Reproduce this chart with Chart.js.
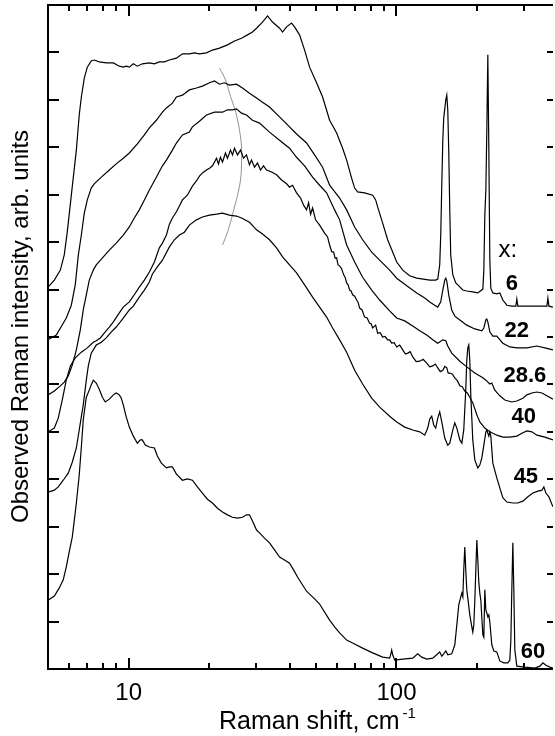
<!DOCTYPE html>
<html><head><meta charset="utf-8">
<script src="https://cdn.jsdelivr.net/npm/chart.js@4/dist/chart.umd.min.js"></script>
<style>html,body{margin:0;padding:0;background:#fff;}canvas{display:block;}</style>
</head><body>
<canvas id="c" width="555" height="736"></canvas>
<script>
// ---- data (Raman shift in cm^-1, intensity in arb. units, offset spectra) ----
const shift6 = [5.00,5.28,5.56,5.75,5.90,6.11,6.38,6.54,6.66,6.83,7.01,7.25,7.44,7.77,8.25,8.77,9.23,9.55,9.80,10.06,10.41,10.78,11.25,11.95,12.48,13.02,13.60,14.20,15.08,15.88,16.86,17.60,18.38,19.52,20.56,21.84,23.39,24.84,26.39,27.78,29.00,30.03,31.61,33.00,34.44,36.60,37.56,38.87,40.57,41.64,43.47,45.39,47.38,50.3,52.99,56.28,59.78,62.94,65.15,68.0,69.79,71.6,76.05,81.47,83.6,85.1,88.8,92.7,100.2,105.5,112.0,119.0,133.1,140.1,142.6,145.0,146.3,147.6,148.9,150.1,152.8,154.1,155.4,156.7,158.1,159.4,162.3,166.5,176.9,183.0,192.7,201.2,210.1,211.9,213.7,215.6,217.4,219.3,221.2,223.1,225.0,228.9,236.9,243.1,249.5,258.2,269.5,279.0,281.4,283.8,314.8,364.4,367.5,370.7,383.7];
const int6 = [8.05,8.20,8.41,8.73,9.21,9.99,10.94,11.68,12.06,12.46,12.69,12.82,12.84,12.80,12.78,12.78,12.71,12.69,12.71,12.69,12.76,12.71,12.76,12.78,12.76,12.80,12.80,12.84,12.88,12.97,12.97,12.99,12.97,12.99,13.05,13.09,13.16,13.24,13.30,13.37,13.43,13.51,13.64,13.77,13.64,13.51,13.43,13.54,13.62,13.54,13.37,13.05,12.69,12.36,12.06,11.57,11.30,10.98,10.73,10.35,10.14,10.06,10.04,9.99,9.89,9.74,9.40,9.05,8.58,8.41,8.29,8.24,8.20,8.20,8.22,8.52,9.15,10.20,11.15,11.62,12.00,12.10,11.79,10.94,9.68,8.73,8.31,8.14,7.99,7.97,7.95,7.93,8.01,8.41,9.57,10.10,11.36,12.95,10.94,8.62,8.03,7.93,7.91,7.93,7.78,7.67,7.65,7.65,7.80,7.65,7.65,7.65,7.82,7.65,7.63];

const shift22 = [5.00,5.37,5.85,6.11,6.32,6.49,6.66,6.83,7.01,7.25,7.44,7.91,8.47,8.99,9.55,10.06,10.78,11.45,11.95,12.69,13.37,13.84,14.57,15.08,15.88,16.86,17.91,18.86,20.04,20.92,21.84,22.80,23.80,25.27,26.6,28.26,30.03,31.61,33.57,36.60,39.88,42.36,46.16,49.46,52.99,56.28,61.34,65.15,69.79,74.75,80.8,86.53,94.30,100.2,109.2,119.0,127.5,133.1,138.9,142.6,146.3,148.9,151.4,152.8,154.1,156.7,160.8,165.1,172.4,183.0,196.1,208.3,211.9,215.6,217.4,219.3,223.1,228.9,236.9,249.5,264.9,281.4,306.7,334.3,358.1,383.7];
const int22 = [6.94,7.04,7.40,7.67,8.10,8.73,9.15,9.61,9.89,10.14,10.23,10.37,10.52,10.65,10.77,10.88,11.07,11.26,11.41,11.57,11.74,11.83,11.93,12.06,12.10,12.21,12.25,12.29,12.36,12.40,12.33,12.36,12.31,12.33,12.25,12.14,12.04,11.95,11.85,11.64,11.43,11.28,11.09,10.84,10.58,10.20,9.93,9.68,9.32,9.05,8.79,8.62,8.41,8.24,8.08,7.93,7.82,7.74,7.67,7.63,7.74,7.99,8.20,8.24,8.18,7.89,7.57,7.44,7.36,7.25,7.17,7.13,7.19,7.36,7.38,7.32,7.11,7.02,7.02,6.87,6.79,6.77,6.77,6.81,6.77,6.73];

const shift28 = [5.00,5.28,5.56,5.75,5.95,6.16,6.38,6.60,6.77,6.95,7.13,7.38,7.57,7.91,8.47,8.99,9.55,10.06,10.50,10.96,11.45,11.95,12.69,13.37,13.84,14.57,15.08,15.88,16.86,17.30,18.38,19.52,20.92,22.41,23.39,24.42,25.27,26.39,27.54,29.00,30.81,33.57,36.60,39.88,42.36,45.39,48.62,51.64,54.85,58.75,61.34,65.15,69.79,74.75,80.8,86.53,94.30,100.2,107.3,115.0,122.1,129.7,136.6,142.6,148.9,152.8,155.4,160.8,172.4,183.0,196.1,210.1,215.6,223.1,226.9,232.9,243.1,253.8,269.5,281.4,296.3,306.7,320.2,334.3,349.1,364.4,383.7];
const int28 = [5.78,5.86,5.97,6.05,6.18,6.41,6.73,7.15,7.57,7.89,8.20,8.41,8.52,8.64,8.83,8.98,9.15,9.32,9.51,9.68,9.89,10.10,10.37,10.61,10.73,10.94,11.09,11.26,11.32,11.43,11.55,11.68,11.74,11.74,11.79,11.79,11.81,11.72,11.68,11.57,11.51,11.32,11.15,10.98,10.79,10.61,10.37,10.20,10.04,9.68,9.47,8.94,8.58,8.26,7.99,7.78,7.55,7.40,7.34,7.23,7.13,7.04,6.94,6.87,6.94,6.92,6.81,6.66,6.49,6.37,6.24,6.14,6.09,6.01,6.03,5.88,5.76,5.67,5.63,5.65,5.71,5.78,5.82,5.84,5.82,5.76,5.69];

const shift40 = [5.00,5.28,5.46,5.65,5.85,6.06,6.32,6.66,7.01,7.38,7.57,7.84,8.18,8.47,8.77,9.23,9.55,10.06,10.41,10.96,11.45,11.95,12.48,13.02,13.37,13.84,14.20,14.57,15.08,15.47,15.88,16.57,17.30,17.91,18.38,18.86,19.52,20.04,20.56,21.29,21.65,22.01,22.41,22.99,23.39,24.0,24.42,24.84,25.5,26.16,26.85,27.54,28.26,28.75,29.51,30.28,31.07,31.88,32.72,34.16,35.67,37.23,38.87,39.88,40.93,42.36,43.85,45.0,46.16,46.97,47.79,48.62,49.88,51.64,53.9,55.3,56.28,57.3,58.25,59.0,59.78,60.5,61.34,62.4,63.5,64.3,65.15,66.0,66.84,67.7,68.60,69.8,71.01,71.9,72.85,74.4,76.05,77.7,79.40,80.4,81.47,83.6,85.06,86.9,88.80,90.7,92.7,94.3,95.96,98.0,100.2,102.8,105.5,108.0,110.2,112.5,115.0,118.5,122.1,125.8,129.7,133.0,136.6,139.6,142.6,145.7,148.9,151.5,154.1,156.0,158.1,161.5,165.1,168.7,172.4,176.0,179.9,183.8,187.8,192.7,199.5,204.7,213.7,223.1,236.9,249.5,264.9,281.4,296.3,306.7,320.2,334.3,358.1,383.7];
const int40 = [5.00,5.08,5.29,5.67,6.09,6.39,6.56,6.68,6.77,6.89,6.92,6.98,7.11,7.21,7.32,7.51,7.63,7.74,7.86,8.05,8.20,8.37,8.58,8.88,8.98,9.15,9.38,9.51,9.64,9.76,9.89,9.99,10.18,10.29,10.39,10.46,10.52,10.56,10.61,10.77,10.65,10.79,10.69,10.88,10.77,10.94,10.84,10.98,10.84,10.94,10.77,10.84,10.63,10.73,10.58,10.67,10.52,10.61,10.52,10.48,10.42,10.31,10.23,10.16,10.20,10.04,9.93,9.78,9.68,9.83,9.59,9.72,9.47,9.36,9.19,9.11,8.94,8.80,8.79,8.66,8.67,8.52,8.50,8.44,8.31,8.26,8.14,8.10,7.99,7.97,7.89,7.86,7.78,7.73,7.61,7.57,7.42,7.40,7.29,7.28,7.19,7.25,7.08,7.09,7.00,7.01,6.94,6.94,6.87,6.88,6.79,6.83,6.73,6.64,6.66,6.69,6.58,6.48,6.49,6.53,6.45,6.37,6.39,6.43,6.35,6.27,6.30,6.38,6.35,6.24,6.24,6.22,6.14,6.08,5.97,5.95,5.86,5.82,5.73,5.61,5.36,5.21,5.08,5.00,4.93,4.89,4.89,4.91,4.98,5.02,5.00,4.93,4.89,4.83];

const shift45 = [5.00,5.28,5.46,5.70,5.95,6.16,6.38,6.54,6.77,6.95,7.07,7.25,7.57,7.91,8.25,8.62,8.99,9.55,10.06,10.41,10.96,11.45,11.95,12.27,12.80,13.37,14.20,14.82,15.47,16.15,16.86,17.91,18.86,20.04,21.29,22.41,23.80,25.27,26.39,28.26,30.03,31.61,33.57,35.67,37.56,39.88,42.36,45.39,48.62,51.64,54.85,57.75,61.34,65.15,69.79,74.75,80.8,86.53,94.30,100.2,107.3,115.0,122.1,127.5,130.8,133.1,135.4,137.8,140.1,142.6,145.0,147.6,151.4,155.4,158.1,162.3,165.1,168.0,172.4,175.4,178.3,181.4,183.0,184.6,186.2,187.8,189.4,192.7,196.1,201.2,204.7,208.3,211.9,215.6,217.4,221.2,223.1,225.0,228.9,236.9,243.1,249.5,258.2,271.9,283.8,296.3,309.4,323.0,337.2,349.1,355.0,361.2,370.7,383.7];
const int45 = [3.73,3.77,3.84,3.98,4.13,4.36,4.66,5.04,5.57,6.09,6.39,6.66,6.83,6.89,6.98,7.11,7.21,7.40,7.57,7.65,7.84,7.99,8.16,8.33,8.48,8.62,8.90,9.05,9.15,9.21,9.36,9.47,9.53,9.57,9.59,9.61,9.57,9.55,9.51,9.42,9.26,9.17,9.05,8.88,8.69,8.52,8.35,8.10,7.84,7.63,7.42,7.19,6.94,6.68,6.30,6.01,5.71,5.52,5.33,5.21,5.10,5.04,5.00,4.93,5.08,5.27,5.33,5.14,5.08,5.29,5.42,5.21,4.87,4.72,4.76,5.04,5.19,5.08,4.83,4.76,5.04,5.88,6.51,6.77,6.83,6.51,5.78,4.83,4.41,4.24,4.30,4.45,4.72,5.00,5.04,4.91,5.00,4.91,4.34,4.03,3.82,3.61,3.52,3.50,3.50,3.54,3.63,3.71,3.75,3.77,3.84,3.71,3.63,3.42];

const shift60 = [5.00,5.28,5.51,5.70,5.85,6.00,6.16,6.27,6.38,6.54,6.66,6.77,6.95,7.13,7.25,7.38,7.57,7.77,7.98,8.18,8.47,8.77,8.99,9.23,9.39,9.55,9.80,10.06,10.41,10.78,11.06,11.25,11.54,11.95,12.48,12.80,13.25,13.84,14.20,14.57,15.08,15.88,16.57,17.30,18.06,18.86,19.69,20.56,21.46,22.41,23.39,24.42,25.5,26.6,27.54,28.26,29.00,30.03,30.81,32.16,33.57,35.05,36.60,38.2,39.88,41.28,42.72,44.60,46.16,47.38,49.46,51.64,53.9,56.28,58.75,61.34,65.15,68.60,74.75,81.47,88.80,94.30,95.1,95.96,96.8,98.47,105.5,115.0,120.0,124.2,129.7,136.6,141.3,145.0,147.6,150.1,152.8,155.4,160.8,165.1,168.0,170.8,173.8,175.4,176.9,178.3,179.9,181.4,183.0,184.6,187.8,191.1,192.7,194.4,196.1,197.8,199.5,201.2,203.0,204.7,206.5,208.3,210.1,211.9,213.7,215.6,217.4,219.3,221.2,223.1,226.9,230.9,236.9,243.1,251.6,260.4,264.9,267.3,269.5,271.9,274.2,276.6,281.4,301.6,328.6,343.1,352.1,361.2,373.9,383.7];
const int60 = [1.45,1.54,1.71,1.88,2.15,2.47,2.78,3.14,3.50,4.09,4.68,5.25,5.73,5.88,5.99,6.09,6.03,5.90,5.73,5.63,5.69,5.78,5.82,5.78,5.71,5.57,5.31,5.10,4.91,4.76,4.83,4.83,4.72,4.68,4.66,4.49,4.34,4.24,4.26,4.26,4.11,3.98,4.01,3.98,3.84,3.71,3.58,3.50,3.39,3.31,3.25,3.20,3.18,3.20,3.25,3.25,3.12,2.93,2.87,2.76,2.66,2.51,2.36,2.30,2.23,2.09,1.94,1.77,1.64,1.58,1.48,1.37,1.20,1.03,0.89,0.76,0.61,0.55,0.44,0.34,0.25,0.23,0.30,0.40,0.30,0.19,0.21,0.23,0.32,0.25,0.21,0.23,0.30,0.36,0.27,0.32,0.38,0.30,0.32,0.51,0.93,1.35,1.52,1.60,1.52,2.09,2.57,2.09,1.67,1.50,1.14,0.89,0.78,0.93,1.45,2.09,2.72,2.30,1.81,1.60,1.45,1.08,0.72,0.67,1.67,1.24,1.18,1.10,1.14,0.99,0.51,0.38,0.36,0.17,0.13,0.13,0.19,0.61,1.67,2.66,1.67,0.40,0.06,0.04,0.02,0.06,0.13,0.08,0.04,0.02];

// grey guide arc through the maxima
const arcShift = [21.84,23.0,23.80,24.63,25.27,25.94,26.39,26.39,26.16,25.5,24.84,24.0,23.19,22.41];
const arcInt = [12.67,12.42,12.14,11.89,11.68,11.36,11.01,10.63,10.31,9.99,9.74,9.42,9.15,8.94];

const seriesLabels = ['6','22','28.6','40','45','60'];
const labelHeader = 'x:';
// label anchors in data coordinates (shift, intensity)
const labelAnchorShift = [269.5,281.4,301.6,298.9,304.1,323.0];
const labelAnchorInt = [7.99,7.00,6.05,5.19,3.92,0.23];
const headerAnchor = [260.4, 8.69];

const yTickValues = [1,2,3,4,5,6,7,8,9,10,11,12,13];
const xMajorTicks = [10,100];
const xMinorTicks = [6,7,8,9,20,30,40,50,60,70,80,90,200,300];
const xTickLabels = ['10','100'];
const xTitle = 'Raman shift, cm';
const xTitleSup = '-1';
const yTitle = 'Observed Raman intensity, arb. units';

function pts(xs, ys){ return xs.map((x,i)=>({x:x, y:ys[i]})); }
function spec(xs, ys){ return {data: pts(xs, ys), borderColor:'#000', borderWidth:1.2, pointRadius:0, tension:0, fill:false}; }

const FONT = '"Liberation Sans", Arial, Helvetica, sans-serif';

const frame = {
  id:'frame',
  afterDraw(chart){
    const ctx = chart.ctx, a = chart.chartArea, xs = chart.scales.x, ys = chart.scales.y;
    ctx.save();
    ctx.strokeStyle = '#000'; ctx.lineWidth = 2; ctx.lineCap = 'butt';
    ctx.beginPath();
    ctx.moveTo(a.right, a.top); ctx.lineTo(a.left, a.top); ctx.lineTo(a.left, a.bottom); ctx.lineTo(a.right, a.bottom);
    ctx.stroke();
    ctx.beginPath();
    yTickValues.forEach(v=>{
      const y = Math.round(ys.getPixelForValue(v));
      ctx.moveTo(a.left, y); ctx.lineTo(a.left+11, y);
      ctx.moveTo(a.right-6, y); ctx.lineTo(a.right, y);
    });
    xMajorTicks.forEach(v=>{
      const x = Math.round(xs.getPixelForValue(v));
      ctx.moveTo(x, a.bottom); ctx.lineTo(x, a.bottom-11);
      ctx.moveTo(x, a.top); ctx.lineTo(x, a.top+11);
    });
    xMinorTicks.forEach(v=>{
      const x = Math.round(xs.getPixelForValue(v));
      ctx.moveTo(x, a.bottom); ctx.lineTo(x, a.bottom-6);
      ctx.moveTo(x, a.top); ctx.lineTo(x, a.top+6);
    });
    ctx.stroke();

    ctx.fillStyle = '#000';
    ctx.textBaseline = 'alphabetic';
    ctx.font = '24px ' + FONT;
    ctx.textAlign = 'center';
    xMajorTicks.forEach((v,i)=>{
      ctx.fillText(xTickLabels[i], xs.getPixelForValue(v), a.bottom + 31);
    });
    // x title with superscript
    ctx.font = '25px ' + FONT;
    ctx.textAlign = 'left';
    const tx = 219, tyb = 729;
    ctx.fillText(xTitle, tx, tyb);
    const w = ctx.measureText(xTitle).width;
    ctx.font = '15px ' + FONT;
    ctx.fillText(xTitleSup, tx + w + 3, tyb - 11);
    // y title
    ctx.save();
    ctx.translate(28, 523);
    ctx.rotate(-Math.PI/2);
    ctx.font = '24px ' + FONT;
    ctx.textAlign = 'left';
    ctx.fillText(yTitle, 0, 0);
    ctx.restore();
    // series labels
    ctx.textAlign = 'center';
    ctx.font = '24px ' + FONT;
    ctx.fillText(labelHeader, xs.getPixelForValue(headerAnchor[0]), ys.getPixelForValue(headerAnchor[1]));
    ctx.font = 'bold 22px ' + FONT;
    seriesLabels.forEach((t,i)=>{
      ctx.fillText(t, xs.getPixelForValue(labelAnchorShift[i]), ys.getPixelForValue(labelAnchorInt[i]));
    });
    ctx.restore();
  }
};

new Chart(document.getElementById('c'), {
  type:'line',
  data:{ datasets:[
    spec(shift6,int6), spec(shift22,int22), spec(shift28,int28),
    spec(shift40,int40), spec(shift45,int45), spec(shift60,int60),
    {data:pts(arcShift,arcInt), borderColor:'#8f8f8f', borderWidth:1, pointRadius:0, tension:0.4, fill:false}
  ]},
  options:{
    responsive:false, animation:false, devicePixelRatio:1,
    layout:{ padding:{ left:48, right:2, top:5, bottom:67 } },
    scales:{
      x:{ type:'logarithmic', min:5, max:384, display:false },
      y:{ type:'linear', min:0, max:14, display:false }
    },
    plugins:{ legend:{display:false}, tooltip:{enabled:false}, title:{display:false} },
    events:[]
  },
  plugins:[frame]
});
</script>
</body></html>
